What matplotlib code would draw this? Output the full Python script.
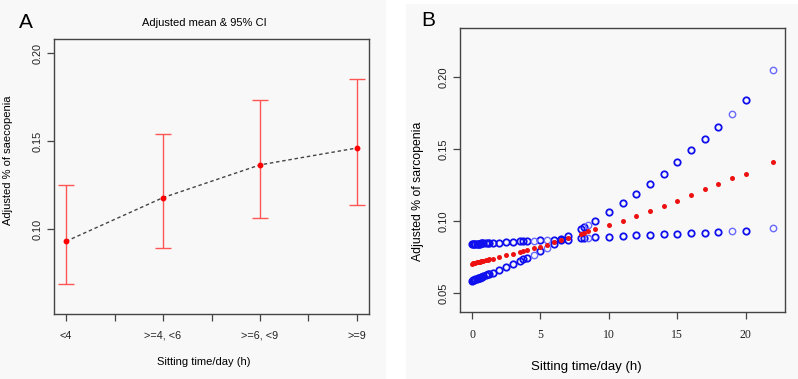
import matplotlib.pyplot as plt
from matplotlib.patches import Rectangle

# panel A: adjusted mean and 95% CI by sitting-time group
groups = ['<4', '>=4, <6', '>=6, <9', '>=9']
adj_mean = [0.0932, 0.1180, 0.1366, 0.1462]
ci_low = [0.0689, 0.0895, 0.1065, 0.1140]
ci_high = [0.1253, 0.1540, 0.1732, 0.1856]

# panel B: predicted % of sarcopenia over sitting hours
hours = [0, 0.08, 0.17, 0.25, 0.33, 0.42, 0.5, 0.58, 0.67, 0.75, 0.83, 1, 1.17, 1.25,
         1.5, 2, 2.5, 3, 3.5, 3.75, 4, 4.5, 5, 5.5, 6, 6.5, 7, 8, 8.17, 8.5, 9,
         10, 11, 12, 13, 14, 15, 16, 17, 18, 19, 20, 22]
pred = [0.0706, 0.0708, 0.0710, 0.0712, 0.0714, 0.0716, 0.0718, 0.0720, 0.0721, 0.0723,
        0.0725, 0.0729, 0.0733, 0.0735, 0.0741, 0.0752, 0.0764, 0.0776, 0.0788, 0.0794,
        0.0800, 0.0812, 0.0824, 0.0838, 0.0853, 0.0868, 0.0884, 0.0914, 0.0920, 0.0933,
        0.0944, 0.0974, 0.1004, 0.1037, 0.1072, 0.1104, 0.1143, 0.1183, 0.1222, 0.1261,
        0.1301, 0.1331, 0.1412]
pred_low = [0.0588, 0.0591, 0.0594, 0.0597, 0.0600, 0.0603, 0.0606, 0.0609, 0.0612, 0.0615,
            0.0618, 0.0625, 0.0631, 0.0634, 0.0644, 0.0663, 0.0683, 0.0704, 0.0725, 0.0736,
            0.0747, 0.0769, 0.0792, 0.0816, 0.0842, 0.0868, 0.0872, 0.0884, 0.0884, 0.0886,
            0.0889, 0.0893, 0.0898, 0.0903, 0.0905, 0.0910, 0.0914, 0.0917, 0.0921, 0.0924,
            0.0931, 0.0931, 0.0951]
pred_high = [0.0842, 0.0842, 0.0843, 0.0843, 0.0844, 0.0844, 0.0845, 0.0845, 0.0846, 0.0846,
             0.0846, 0.0847, 0.0848, 0.0849, 0.0850, 0.0852, 0.0855, 0.0857, 0.0860, 0.0861,
             0.0863, 0.0865, 0.0868, 0.0870, 0.0873, 0.0875, 0.0896, 0.0947, 0.0958, 0.0974,
             0.1004, 0.1063, 0.1125, 0.1188, 0.1257, 0.1331, 0.1412, 0.1495, 0.1569, 0.1657,
             0.1747, 0.1842, 0.2049]
# hours with a single observation (drawn lighter, no overplotting)
single_hours = [4.5, 5.5, 8.5, 19, 22]

plt.rcParams['font.family'] = ['Liberation Sans', 'DejaVu Sans']
bg = '#f8f8f8'
W, H = 798, 379

fig = plt.figure(figsize=(W / 100, H / 100), dpi=100)
fig.patches.append(Rectangle((0, 0), 386 / W, 1, transform=fig.transFigure,
                             facecolor=bg, edgecolor='none', zorder=-10))
fig.patches.append(Rectangle((406 / W, 0), 392 / W, (H - 4) / H, transform=fig.transFigure,
                             facecolor=bg, edgecolor='none', zorder=-10))


def px_axes(x0, y0, x1, y1):
    return fig.add_axes([x0 / W, (H - y1) / H, (x1 - x0) / W, (y1 - y0) / H])


def style(ax):
    ax.set_facecolor(bg)
    for s in ax.spines.values():
        s.set_color('#444444')
        s.set_linewidth(1.0)
    ax.tick_params(colors='#444444', length=5, width=0.9, labelcolor='#222222')


# ---- panel A
ax1 = px_axes(54, 39, 369, 314)
style(ax1)
xpos = list(range(1, len(groups) + 1))
yerr = [[m - l for m, l in zip(adj_mean, ci_low)], [h - m for m, h in zip(adj_mean, ci_high)]]
ax1.errorbar(xpos, adj_mean, yerr=yerr, fmt='none', ecolor='#ff5555', elinewidth=1.0,
             capsize=5.5, capthick=1.0)
ax1.plot(xpos, adj_mean, color='#444444', lw=1.0, ls=(0, (2.5, 2)))
ax1.plot(xpos, adj_mean, 'o', color='red', ms=3.2, zorder=5)
ax1.set_xlim(0.876, 4.124)
ax1.set_ylim(0.0519, 0.2081)
ax1.set_xticks([1, 1.5, 2, 2.5, 3, 3.5, 4])
ax1.set_xticklabels([groups[0], '', groups[1], '', groups[2], '', groups[3]], fontsize=7.8)
ax1.tick_params(axis='x', pad=7)
ax1.set_yticks([0.10, 0.15, 0.20])
ax1.set_yticklabels(['0.10', '0.15', '0.20'], fontsize=7.8, rotation=90, va='center')
ax1.set_xlabel('Sitting time/day (h)', fontsize=8)
ax1.xaxis.set_label_coords((204 - 54) / 315, (314 - 362) / 275)
ax1.xaxis.label.set_va('center')
ax1.set_ylabel('Adjusted % of saecopenia', fontsize=8)
ax1.yaxis.set_label_coords((8 - 54) / 315, (314 - 160) / 275)
ax1.yaxis.label.set_va('center')
fig.text(204 / W, 1 - 23 / H, 'Adjusted mean & 95% CI', fontsize=8, ha='center', va='center')
fig.text(26 / W, 1 - 22 / H, 'A', fontsize=15, ha='center', va='center')

# ---- panel B
ax2 = px_axes(460, 28, 785, 312)
style(ax2)
light = [h in single_hours for h in hours]
for lo_hi in (pred_low, pred_high):
    xs = [h for h, l in zip(hours, light) if not l]
    ys = [v for v, l in zip(lo_hi, light) if not l]
    ax2.plot(xs, ys, 'o', mfc='none', mec='#1010ee', ms=4.6, mew=1.3)
    xs = [h for h, l in zip(hours, light) if l]
    ys = [v for v, l in zip(lo_hi, light) if l]
    ax2.plot(xs, ys, 'o', mfc='none', mec='#6a6aff', ms=4.6, mew=1.0)
ax2.plot(hours, pred, 'o', color='#ee1111', ms=3.6, mew=0)
ax2.set_xlim(-0.88, 22.88)
ax2.set_ylim(0.0370, 0.2342)
ax2.set_xticks([0, 5, 10, 15, 20])
ax2.set_xticklabels(['0', '5', '10', '15', '20'], fontsize=8.5, family='Liberation Serif')
ax2.tick_params(axis='x', pad=7)
ax2.set_yticks([0.05, 0.10, 0.15, 0.20])
ax2.set_yticklabels(['0.05', '0.10', '0.15', '0.20'], fontsize=8, rotation=90, va='center')
ax2.set_xlabel('Sitting time/day (h)', fontsize=9.5)
ax2.xaxis.set_label_coords((586 - 460) / 325, (312 - 366.7) / 284)
ax2.xaxis.label.set_va('center')
ax2.set_ylabel('Adjusted % of sarcopenia', fontsize=8.8)
ax2.yaxis.set_label_coords((418 - 460) / 325, (312 - 191) / 284)
ax2.yaxis.label.set_va('center')
fig.text(428 / W, 1 - 20 / H, 'B', fontsize=15, ha='center', va='center')

fig.savefig('out.png', dpi=100)
